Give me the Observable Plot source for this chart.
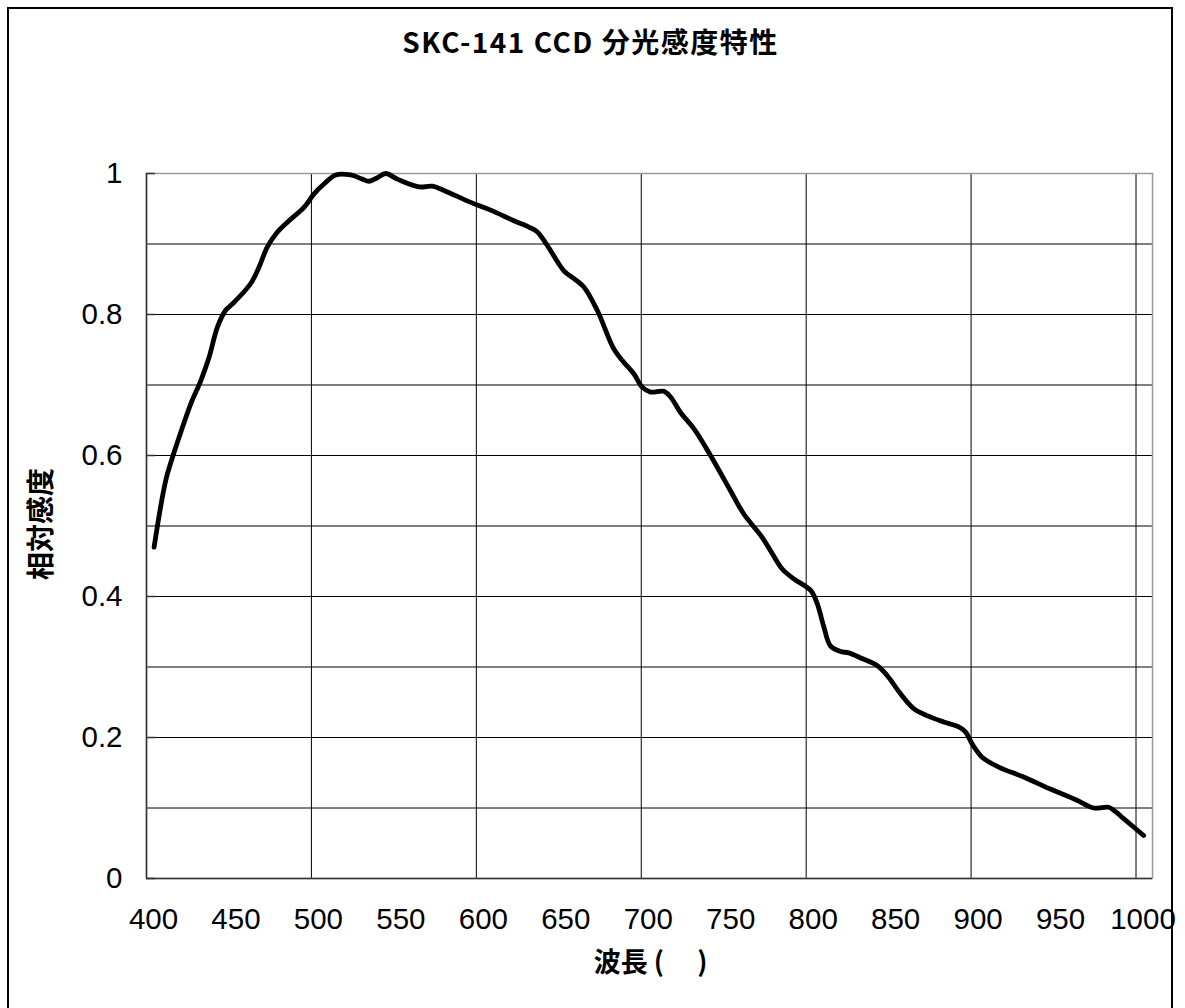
<!DOCTYPE html>
<html>
<head>
<meta charset="utf-8">
<script src="https://cdn.jsdelivr.net/npm/d3@7"></script>
<script src="https://cdn.jsdelivr.net/npm/@observablehq/plot@0.6"></script>
<style>
  html, body { margin: 0; padding: 0; background: #fff; }
  #wrap { position: relative; width: 1185px; height: 1008px; overflow: hidden; }
  #border { position: absolute; left: 7px; top: 7px; width: 1166px; height: 1020px; border: 2px solid #000; box-sizing: border-box; pointer-events: none; }
  #chart { position: absolute; left: 0; top: 0; }
</style>
</head>
<body>
<div id="wrap"><div id="chart"></div><div id="border"></div></div>
<script>
const titleText = "SKC-141 CCD 分光感度特性";
const xLabelText = "波長 (　 )";
const yLabelText = "相対感度";

const wavelength = [404.6, 411.7, 416.4, 420.8, 426.8, 432.9, 437.9, 443, 448, 453, 463.2, 468.2, 473.3, 479.4, 486.4, 495.5, 501.6, 507.6, 514.7, 523.8, 530.9, 534.9, 540, 545, 552.1, 565.2, 573.3, 580.4, 596.6, 608.7, 622.8, 631.9, 637, 643, 653.1, 659.2, 665.2, 673.3, 683.4, 689.5, 695.5, 700.6, 705.6, 713.7, 717.8, 723.8, 731.9, 742, 754.1, 762.2, 773.3, 779.4, 785.5, 792.5, 802.6, 806.7, 810.7, 814.7, 820.8, 825.8, 833.9, 843, 849.1, 857.2, 865.2, 873.3, 883.4, 892.5, 896.6, 900.6, 906.7, 916.7, 931.9, 948, 964.2, 974.3, 983.4, 987.5, 992.5, 1004.6];
const sensitivity = [0.470, 0.565, 0.602, 0.633, 0.673, 0.706, 0.739, 0.782, 0.806, 0.817, 0.844, 0.867, 0.896, 0.917, 0.933, 0.952, 0.971, 0.985, 0.998, 0.998, 0.992, 0.989, 0.994, 1.0, 0.992, 0.981, 0.982, 0.976, 0.959, 0.948, 0.933, 0.924, 0.917, 0.898, 0.862, 0.851, 0.839, 0.806, 0.751, 0.732, 0.716, 0.697, 0.690, 0.691, 0.683, 0.661, 0.638, 0.600, 0.550, 0.517, 0.484, 0.461, 0.439, 0.425, 0.409, 0.390, 0.357, 0.330, 0.322, 0.320, 0.312, 0.302, 0.288, 0.262, 0.241, 0.231, 0.222, 0.215, 0.208, 0.191, 0.172, 0.158, 0.144, 0.127, 0.111, 0.100, 0.101, 0.095, 0.085, 0.061];

const xDomain = [400, 1010];
const yDomain = [0, 1];
const xTickLabels = [400, 450, 500, 550, 600, 650, 700, 750, 800, 850, 900, 950, 1000];
const xGrid = [500, 600, 700, 800, 900, 1000];
const yTickLabels = [0, 0.2, 0.4, 0.6, 0.8, 1];
const yGrid = [0.1, 0.2, 0.3, 0.4, 0.5, 0.6, 0.7, 0.8, 0.9];

const data = wavelength.map((w, i) => ({w, v: sensitivity[i]}));

const latin = "'Liberation Sans', Arial, 'Noto Sans CJK JP', sans-serif";
const cjk = "'Noto Sans CJK JP', 'Liberation Sans', sans-serif";

const chart = Plot.plot({
  width: 1185,
  height: 1008,
  marginLeft: 146,
  marginRight: 33,
  marginTop: 173,
  marginBottom: 130,
  style: {fontFamily: latin, background: "transparent"},
  x: {domain: xDomain, label: null},
  y: {domain: yDomain, label: null},
  marks: [
    Plot.gridX(xGrid, {stroke: "#000", strokeOpacity: 1, strokeWidth: 1}),
    Plot.gridY(yGrid, {stroke: "#000", strokeOpacity: 1, strokeWidth: 1}),
    Plot.frame({stroke: "#9a9a9a", strokeWidth: 1.5}),
    Plot.ruleX([xDomain[0]], {stroke: "#333", strokeWidth: 1.5}),
    Plot.ruleY([yDomain[0]], {stroke: "#333", strokeWidth: 1.5}),
    Plot.tickY(yTickLabels, {y: d => d, stroke: "#333", strokeWidth: 1.5, insetRight: 997}),
    Plot.axisX(xTickLabels, {label: null, tickSize: 0, tickPadding: 30, fontSize: 29.5, dx: 7, fill: "#000", tickFormat: d => String(d)}),
    Plot.axisY(yTickLabels, {label: null, tickSize: 0, tickPadding: 24, fontSize: 29.5, tickFormat: d => String(d), fill: "#000"}),
    Plot.line(data, {x: "w", y: "v", stroke: "#000", strokeWidth: 4.8, curve: "catmull-rom", strokeLinecap: "round", strokeLinejoin: "round"}),
    Plot.text([titleText], {text: d => d, frameAnchor: "top", textAnchor: "middle", dx: -59, dy: -129, fontSize: 28, fontFamily: cjk, fontWeight: "bold", fill: "#000", lineAnchor: "middle"}),
    Plot.text([xLabelText], {text: d => d, frameAnchor: "bottom", textAnchor: "middle", dx: 1, dy: 85, fontSize: 27, fontFamily: cjk, fontWeight: "bold", fill: "#000", lineAnchor: "middle"}),
    Plot.text([yLabelText], {text: d => d, frameAnchor: "left", textAnchor: "middle", dx: -104, dy: -2, rotate: -90, fontSize: 28, fontFamily: cjk, fontWeight: "bold", fill: "#000", lineAnchor: "middle"})
  ]
});
d3.select(chart).selectAll("text").filter(function() { return this.textContent === titleText; }).style("letter-spacing", "1.5px");
document.getElementById("chart").appendChild(chart);
</script>
</body>
</html>
